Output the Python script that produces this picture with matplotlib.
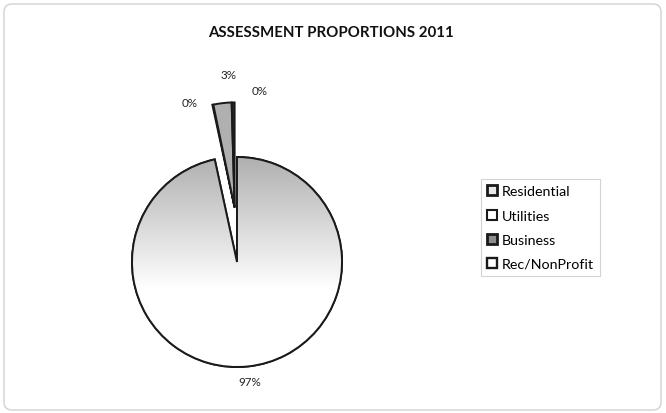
import numpy as np
import matplotlib
matplotlib.use("Agg")
import matplotlib.pyplot as plt
from matplotlib.patches import FancyBboxPatch, Rectangle, Wedge
from matplotlib.colors import LinearSegmentedColormap

# Assessment shares by property class (percent)
categories = ["Residential", "Utilities", "Business", "Rec/NonProfit"]
shares = [96.6, 0.15, 2.8, 0.45]
pulled_out = [False, True, True, True]
fills = ["none", "white", "#b0b0b0", "#2a2a2a"]
title = "ASSESSMENT PROPORTIONS 2011"

W, H = 666, 414
fig = plt.figure(figsize=(W / 100, H / 100), dpi=100)
ax = fig.add_axes([0, 0, 1, 1])

# chart frame
frame = FancyBboxPatch((4, 3), W - 9, H - 8, boxstyle="round,pad=0,rounding_size=8",
                       fc="white", ec="#d2d2d2", lw=1.0)
ax.add_patch(frame)

cx, cy, r = 237, H - 263, 105
wedges, texts, autotexts = ax.pie(
    shares, startangle=90, counterclock=False,
    center=(cx, cy), radius=r, colors=["white"] * 4,
    wedgeprops=dict(edgecolor="#1a1a1a", linewidth=1.4),
    autopct=lambda p: f"{p:.0f}%", pctdistance=1.14,
    textprops=dict(fontsize=8.4, family="Lato", color="#222222"),
    frame=True)

# the small slices are pulled out together as one group
pull = 0.52 * r
pull_dir = np.deg2rad(92.5)
for w, f, p in zip(wedges, fills, pulled_out):
    if f != "none":
        w.set_facecolor(f)
    if p:
        w.set_center((cx + pull * np.cos(pull_dir), cy + pull * np.sin(pull_dir)))

# grey-to-white vertical gradient inside the large slice
grad = np.clip(np.linspace(0, 1, 256).reshape(-1, 1) / 0.63, 0, 1)
cmap = LinearSegmentedColormap.from_list("g", ["#b0b0b0", "#ffffff"])
img = ax.imshow(grad, cmap=cmap, extent=(cx - r, cx + r, cy - r, cy + r),
                origin="upper", aspect="auto", zorder=wedges[0].get_zorder() + 0.1)
img.set_clip_path(wedges[0])
edge = Wedge((cx, cy), r, wedges[0].theta1, wedges[0].theta2,
             fc="none", ec="#1a1a1a", lw=1.4, zorder=img.get_zorder() + 0.1)
ax.add_patch(edge)

# spread the labels of the narrow slices apart
label_angles = {1: 106.5, 2: 92.7, 3: 82.5}
label_dist = {1: 1.58, 2: 1.79, 3: 1.65}
for i, t in enumerate(autotexts):
    if i in label_angles:
        a = np.deg2rad(label_angles[i])
        t.set_position((cx + label_dist[i] * r * np.cos(a), cy + label_dist[i] * r * np.sin(a)))
    t.set_ha("center")
    t.set_va("center")

ax.text(W / 2 - 2, H - 33, title, ha="center", va="center", fontsize=10.8,
        fontweight="bold", family="Lato", color="#111111")

# legend
handles = [
    Rectangle((0, 0), 1, 1, fc="#e8e8e8", ec="#1a1a1a", lw=2.0),
    Rectangle((0, 0), 1, 1, fc="white", ec="#1a1a1a", lw=1.5),
    Rectangle((0, 0), 1, 1, fc="#8c8c8c", ec="#1a1a1a", lw=2.0),
    Rectangle((0, 0), 1, 1, fc="white", ec="#1a1a1a", lw=1.7),
]
leg = ax.legend(handles, categories, loc="upper left",
                bbox_to_anchor=(481 / W, 1 - 180 / H), bbox_transform=fig.transFigure,
                frameon=True, fancybox=False, edgecolor="#c8c8c8",
                prop=dict(family="Lato", size=10.3), handlelength=0.7, handleheight=0.7,
                handletextpad=0.3, labelspacing=0.85, borderpad=0.45, borderaxespad=0)
leg.get_frame().set_linewidth(0.8)

ax.set_xlim(0, W)
ax.set_ylim(0, H)
ax.set_aspect("equal")
ax.axis("off")

fig.savefig("out.png", dpi=100, facecolor="white")
